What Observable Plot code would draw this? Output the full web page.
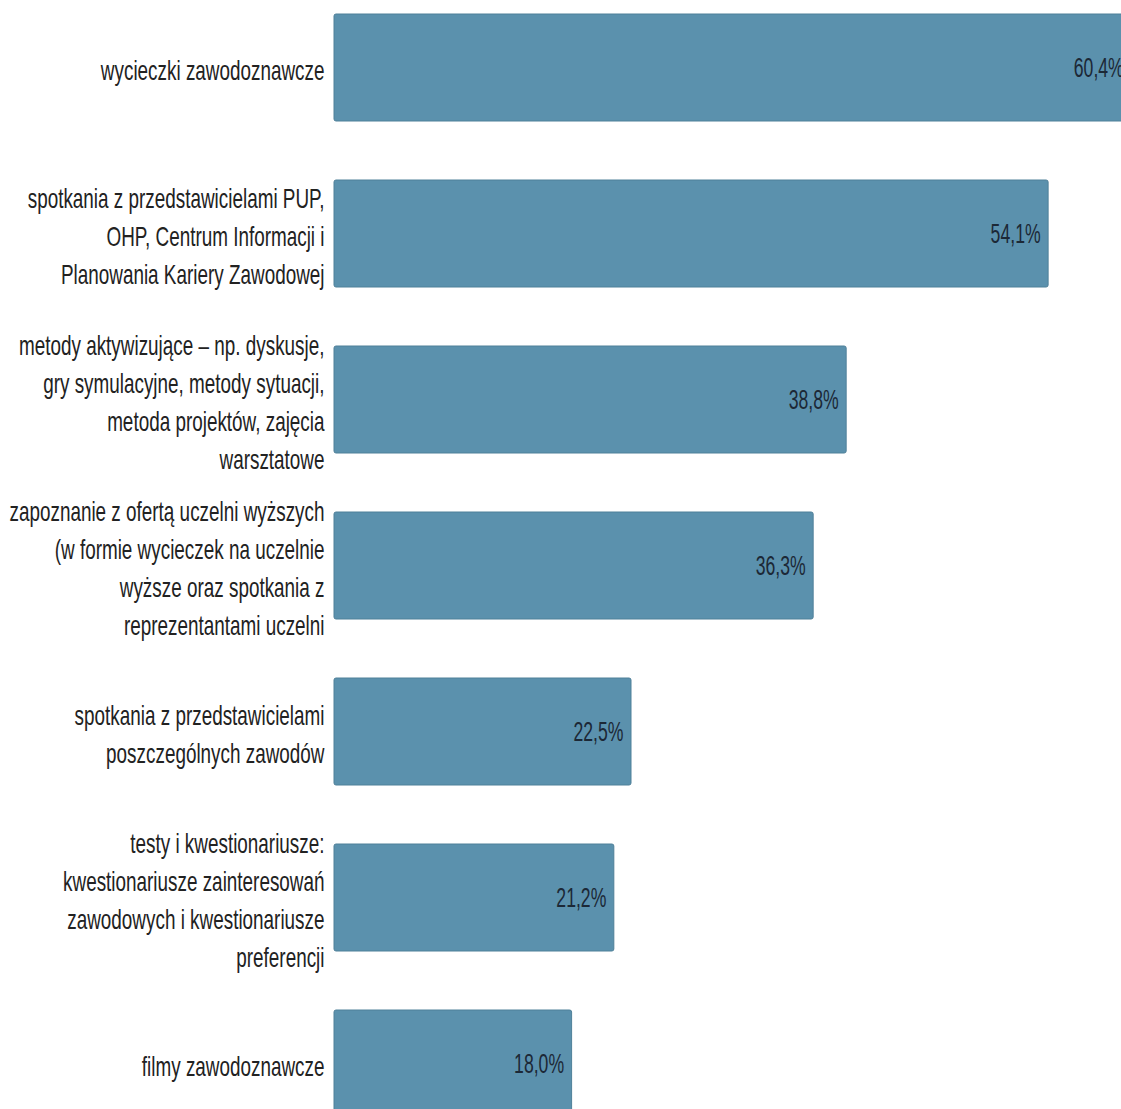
<!DOCTYPE html>
<html>
<head>
<meta charset="utf-8">
<script src="https://cdn.jsdelivr.net/npm/d3@7"></script>
<script src="https://cdn.jsdelivr.net/npm/@observablehq/plot@0.6"></script>
<style>
  html, body { margin: 0; padding: 0; background: #ffffff; }
  #chart svg { display: block; overflow: hidden; }
</style>
</head>
<body>
<div id="chart"></div>
<script>
const categories = [
  "wycieczki zawodoznawcze",
  "spotkania z przedstawicielami PUP,\nOHP, Centrum Informacji i\nPlanowania Kariery Zawodowej",
  "metody aktywizujące – np. dyskusje,\ngry symulacyjne, metody sytuacji,\nmetoda projektów, zajęcia\nwarsztatowe",
  "zapoznanie z ofertą uczelni wyższych\n(w formie wycieczek na uczelnie\nwyższe oraz spotkania z\nreprezentantami uczelni",
  "spotkania z przedstawicielami\nposzczególnych zawodów",
  "testy i kwestionariusze:\nkwestionariusze zainteresowań\nzawodowych i kwestionariusze\npreferencji",
  "filmy zawodoznawcze"
];
const values = [60.4, 54.1, 38.8, 36.3, 22.5, 21.2, 18.0];
const valueLabels = ["60,4%", "54,1%", "38,8%", "36,3%", "22,5%", "21,2%", "18,0%"];

const data = categories.map((c, i) => ({category: c, value: values[i], label: valueLabels[i]}));

const FONT = "'Liberation Sans', Arial, sans-serif";

const chart = Plot.plot({
  width: 1121,
  height: 1109,
  marginLeft: 334,
  marginRight: 0,
  marginTop: 0,
  marginBottom: 0,
  style: {background: "#ffffff", fontFamily: FONT},
  x: {domain: [0, 100], range: [334, 1654], axis: null},
  y: {domain: categories, range: [-15.5, 1146.5], paddingInner: 0.355, paddingOuter: 0.1775, label: null},
  marks: [
    Plot.barX(data, {y: "category", x: "value", fill: "#5b91ad", stroke: "#4f8099", strokeWidth: 1, rx: 2}),
    Plot.text(data, {y: "category", x: "value", text: "label", textAnchor: "end", dx: -8, fill: "#1c2836", fontSize: 28, fontFamily: FONT, className: "vlabel"}),
    Plot.axisY({tickSize: 0, tickPadding: 10, fontSize: 28, lineHeight: 1.36, fill: "#222222", fontFamily: FONT, label: null, className: "ylab"})
  ]
});

// condense glyphs horizontally (narrow typeface look of the original)
function condense(sel, s) {
  d3.select(chart).selectAll(sel).each(function() {
    const t = d3.select(this);
    const x = t.attr("x"), y = t.attr("y");
    const tr = t.attr("transform") || "";
    if (x != null || y != null) {
      const xv = +(x || 0);
      t.attr("transform", `${tr} translate(${xv},0) scale(${s},1) translate(${-xv},0)`);
    } else {
      t.attr("transform", `${tr} scale(${s},1)`);
    }
  });
}
condense("g.ylab text", 0.675);
condense("g.vlabel text", 0.63);

document.getElementById("chart").appendChild(chart);
</script>
</body>
</html>
